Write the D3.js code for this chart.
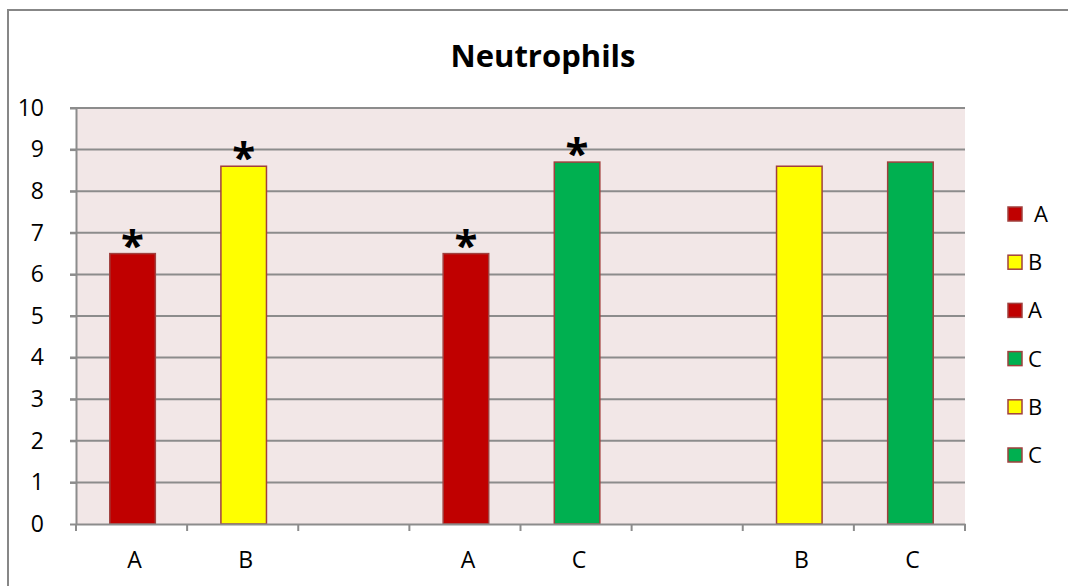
<!DOCTYPE html>
<html>
<head>
<meta charset="utf-8">
<script src="https://cdn.jsdelivr.net/npm/d3@7"></script>
<style>
  html, body { margin: 0; padding: 0; background: #ffffff; }
  svg { display: block; font-family: "Open Sans", "Liberation Sans", sans-serif; }
</style>
</head>
<body>
<svg id="chart" width="1068" height="586"></svg>
<script>
// Category slots along the x axis (blank slots separate the groups)
const categories = ["A", "B", "", "A", "C", "", "B", "C"];

// One series per bar: its legend name, the slot it sits in, its value
const seriesNames  = ["A", "B", "A", "C", "B", "C"];
const seriesSlots  = [0, 1, 3, 4, 6, 7];
const seriesValues = [6.5, 8.6, 6.5, 8.7, 8.6, 8.7];
const seriesColors = ["#C00000", "#FFFF00", "#C00000", "#00B050", "#FFFF00", "#00B050"];
const significant  = [true, true, true, true, false, false];

const yTicks = [0, 1, 2, 3, 4, 5, 6, 7, 8, 9, 10];

const svg = d3.select("#chart");
const plot = { left: 76, right: 965, top: 108, bottom: 524 };
const labelFont = "'Open Sans', 'Liberation Sans', sans-serif";
const labelSize = 23;

// Outer chart frame
svg.append("rect")
  .attr("x", 8).attr("y", 10)
  .attr("width", 1100).attr("height", 600)
  .attr("fill", "#ffffff")
  .attr("stroke", "#878787").attr("stroke-width", 2);

const x = d3.scaleBand()
  .domain(d3.range(categories.length))
  .range([plot.left, plot.right])
  .padding(0);

const y = d3.scaleLinear()
  .domain([0, 10])
  .range([plot.bottom, plot.top]);

// Plot area background
svg.append("rect")
  .attr("x", plot.left).attr("y", plot.top)
  .attr("width", plot.right - plot.left).attr("height", plot.bottom - plot.top)
  .attr("fill", "#F2E7E7");

// Horizontal gridlines with short ticks to the left
const grid = svg.append("g").attr("class", "grid");
grid.selectAll("line")
  .data(yTicks.filter(d => d > 0))
  .join("line")
  .attr("x1", plot.left - 6).attr("x2", plot.right)
  .attr("y1", d => y(d)).attr("y2", d => y(d))
  .attr("stroke", "#8C8C8C").attr("stroke-width", 2);

// Y axis
const yAxis = svg.append("g")
  .attr("transform", `translate(${plot.left},0)`)
  .call(d3.axisLeft(y).tickValues(yTicks).tickSize(6).tickPadding(26).tickSizeOuter(0));
yAxis.select(".domain").attr("stroke", "#8C8C8C").attr("stroke-width", 2);
yAxis.selectAll(".tick line").attr("stroke", "#8C8C8C").attr("stroke-width", 2);
yAxis.selectAll(".tick text")
  .attr("fill", "#000")
  .style("font-size", labelSize + "px")
  .style("font-family", labelFont);

// Bars
const barW = x.bandwidth() * 0.41;
const bars = svg.append("g").attr("class", "bars");
bars.selectAll("rect")
  .data(seriesValues.map((v, i) => ({ v, i })))
  .join("rect")
  .attr("x", d => x(seriesSlots[d.i]) + (x.bandwidth() - barW) / 2 + 1)
  .attr("y", d => y(d.v))
  .attr("width", barW)
  .attr("height", d => y(0) - y(d.v))
  .attr("fill", d => seriesColors[d.i])
  .attr("stroke", "#A0403E").attr("stroke-width", 1.5);

// Significance asterisks above bars
svg.append("g").selectAll("text")
  .data(seriesValues.map((v, i) => ({ v, i })).filter(d => significant[d.i]))
  .join("text")
  .attr("x", d => x(seriesSlots[d.i]) + x.bandwidth() / 2 + 1)
  .attr("y", d => y(d.v) + 6)
  .attr("text-anchor", "middle")
  .style("font-size", "42px").style("font-weight", "bold")
  .attr("fill", "#000")
  .text("*");

// X axis
const xAxis = svg.append("g")
  .attr("transform", `translate(0,${plot.bottom})`)
  .call(d3.axisBottom(x).tickValues([]).tickSizeOuter(0));
xAxis.select(".domain").attr("stroke", "#8C8C8C").attr("stroke-width", 2);

// Category boundary ticks
xAxis.selectAll("line.sep")
  .data(d3.range(categories.length + 1))
  .join("line")
  .attr("class", "sep")
  .attr("x1", i => plot.left + i * x.step()).attr("x2", i => plot.left + i * x.step())
  .attr("y1", 0).attr("y2", 7)
  .attr("stroke", "#8C8C8C").attr("stroke-width", 2);

// Category labels
xAxis.selectAll("text.cat")
  .data(categories.map((c, i) => ({ c, i })).filter(d => d.c))
  .join("text")
  .attr("class", "cat")
  .attr("x", d => x(d.i) + x.bandwidth() / 2 + 3)
  .attr("y", 44)
  .attr("text-anchor", "middle")
  .attr("fill", "#000")
  .style("font-size", labelSize + "px")
  .style("font-family", labelFont)
  .text(d => d.c);

// Title
svg.append("text")
  .attr("x", 543).attr("y", 67)
  .attr("text-anchor", "middle")
  .style("font-size", "31px").style("font-weight", "bold")
  .style("font-family", labelFont)
  .attr("fill", "#000")
  .text("Neutrophils");

// Legend
const legend = svg.append("g").attr("transform", "translate(1008,207)");
const item = legend.selectAll("g")
  .data(seriesNames.map((n, i) => ({ n, i })))
  .join("g")
  .attr("transform", d => `translate(0,${d.i * 48.2})`);
item.append("rect")
  .attr("width", 14).attr("height", 14)
  .attr("fill", d => seriesColors[d.i])
  .attr("stroke", "#A0403E").attr("stroke-width", 1.5);
item.append("text")
  .attr("x", d => d.i === 0 ? 26 : 20).attr("y", 15)
  .attr("fill", "#000")
  .style("font-size", "22px")
  .style("font-family", labelFont)
  .text(d => d.n);
</script>
</body>
</html>
